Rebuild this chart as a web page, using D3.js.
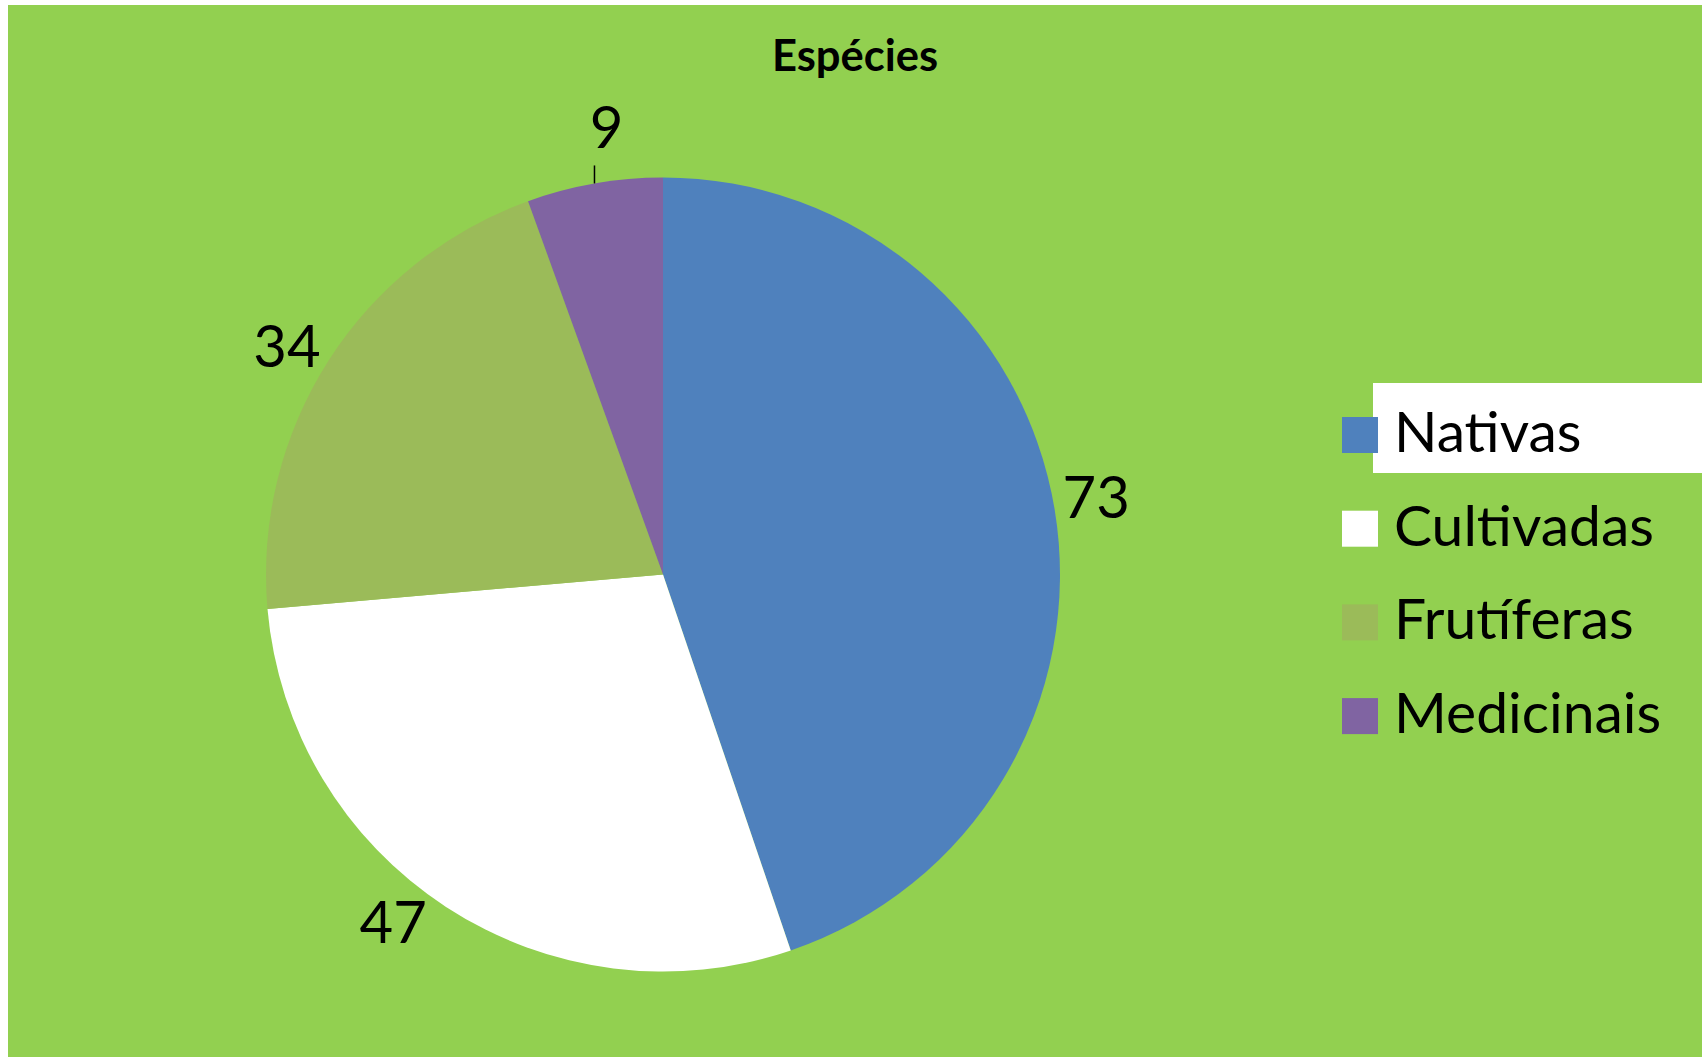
<!DOCTYPE html>
<html>
<head>
<meta charset="utf-8">
<script src="https://cdn.jsdelivr.net/npm/d3@7"></script>
<style>
	body { margin: 0; background: #fff; }
	svg { display: block; font-family: Lato, "Open Sans", sans-serif; }
</style>
</head>
<body>
<svg id="chart" width="1708" height="1057"></svg>
<script>
var title = 'Espécies';
var categories = ['Nativas', 'Cultivadas', 'Frutíferas', 'Medicinais'];
var values = [73, 47, 34, 9];
var colors = ['#4F81BD', '#FFFFFF', '#9BBB59', '#8064A2'];

var svg = d3.select('#chart');
var cx = 663, cy = 574.5, radius = 397;
var labelR = 440;
// small angular nudges (degrees) so labels sit like the original's
var labelShift = [-0.7, 4.7, -1.3, 0];

svg.append('rect')
	.attr('x', 8).attr('y', 5)
	.attr('width', 1694).attr('height', 1052)
	.attr('fill', '#92D050');

svg.append('text')
	.attr('x', 855).attr('y', 71)
	.attr('text-anchor', 'middle')
	.attr('font-weight', 'bold')
	.attr('font-size', 43.5)
	.text(title);

var data = categories.map(function(c, i){ return {name: c, value: values[i], color: colors[i]} });

var pie = d3.pie().sort(null).value(function(d){ return d.value });
var arc = d3.arc().innerRadius(0).outerRadius(radius);
var edgeArc = d3.arc().innerRadius(radius).outerRadius(radius);

var g = svg.append('g').attr('transform', 'translate(' + cx + ',' + cy + ')');
var arcs = pie(data);

g.selectAll('.slice')
	.data(arcs)
	.enter()
	.append('path')
	.attr('class', 'slice')
	.attr('d', arc)
	.attr('fill', function(d){ return d.data.color });

// labels: big slices outside end, small one with a short leader line
arcs.forEach(function(d, i){
	if (d.data.value >= 15) {
		var a = (d.startAngle + d.endAngle) / 2 + labelShift[i] * Math.PI / 180;
		g.append('text')
			.attr('x', labelR * Math.sin(a))
			.attr('y', -labelR * Math.cos(a))
			.attr('dy', '0.36em')
			.attr('text-anchor', 'middle')
			.attr('font-size', 58)
			.text(d.data.value);
	} else {
		var e = edgeArc.centroid(d);
		g.append('line')
			.attr('x1', e[0]).attr('y1', e[1])
			.attr('x2', e[0]).attr('y2', e[1] - 18)
			.attr('stroke', '#000').attr('stroke-width', 1.5);
		g.append('text')
			.attr('x', e[0] + 12).attr('y', e[1] - 35)
			.attr('text-anchor', 'middle')
			.attr('font-size', 58)
			.text(d.data.value);
	}
});

// legend
var legend = svg.append('g');
legend.append('rect')
	.attr('x', 1373).attr('y', 383)
	.attr('width', 329).attr('height', 90)
	.attr('fill', '#fff');

var item = legend.selectAll('.item')
	.data(data)
	.enter()
	.append('g')
	.attr('class', 'item')
	.attr('transform', function(d, i){ return 'translate(1342,' + (417 + i * 93.7) + ')' });

item.append('rect')
	.attr('width', 36).attr('height', 36)
	.attr('fill', function(d){ return d.color });

item.append('text')
	.attr('x', 52).attr('y', 35)
	.attr('font-size', 57)
	.text(function(d){ return d.name });
</script>
</body>
</html>
